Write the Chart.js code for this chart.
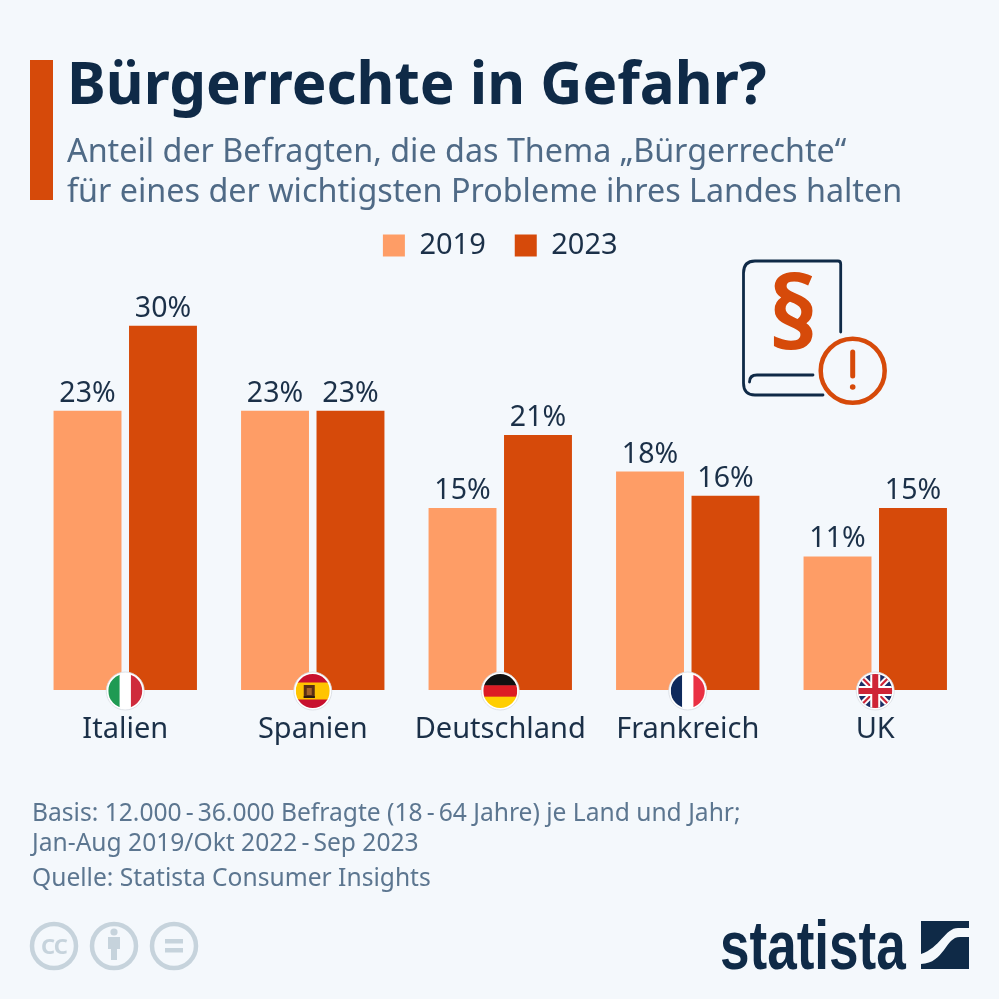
<!DOCTYPE html>
<html lang="de">
<head>
<meta charset="utf-8">
<title>Bürgerrechte in Gefahr?</title>
<script src="https://cdn.jsdelivr.net/npm/chart.js@4"></script>
<style>
  html, body { margin: 0; padding: 0; background: #f4f8fc; }
  body { width: 999px; height: 999px; position: relative; overflow: hidden; font-family: "Noto Sans", sans-serif; }
  canvas { position: absolute; left: 0; top: 0; }
  .txt { position: absolute; white-space: nowrap; }
  .accent { position: absolute; left: 30px; top: 60px; width: 23px; height: 140px; background: #d64a0a; }
  .title { left: 67px; top: 45px; font-size: 58.3px; line-height: 74px; font-weight: 700; color: #0f2a47; }
  .sub { left: 67px; font-size: 32.3px; line-height: 40px; color: #4f6a86; }
  .foot { left: 32px; font-size: 24.6px; line-height: 32px; color: #5c7690; }
  .logo { left: 720px; top: 905px; font-family: "Liberation Sans", sans-serif; font-weight: 700; font-size: 68px; line-height: 80px; color: #0f2a47; transform: scaleX(0.78); transform-origin: left top; }
  svg { position: absolute; left: 0; top: 0; }
</style>
</head>
<body>
<canvas id="chart" width="999" height="999"></canvas>
<div class="accent"></div>
<div class="txt title">Bürgerrechte in Gefahr?</div>
<div class="txt sub" style="top:129px">Anteil der Befragten, die das Thema „Bürgerrechte“</div>
<div class="txt sub" style="top:169px">für eines der wichtigsten Probleme ihres Landes halten</div>
<div class="txt foot" style="top:796px">Basis: 12.000&#8201;-&#8201;36.000 Befragte (18&#8201;-&#8201;64 Jahre) je Land und Jahr;</div>
<div class="txt foot" style="top:826px">Jan-Aug 2019/Okt 2022&#8201;-&#8201;Sep 2023</div>
<div class="txt foot" style="top:861px">Quelle: Statista Consumer Insights</div>
<div class="txt logo">statista</div>
<svg width="999" height="999" viewBox="0 0 999 999">
  <!-- book icon -->
  <g fill="none" stroke="#0f2a47" stroke-width="2.8" stroke-linecap="round">
    <path d="M840.7 332 V264 Q840.7 261 838 261 H755 Q743.5 261 743.5 273 V383 Q743.5 395 755 395 H823"/>
    <path d="M813 375 H757 Q749.5 375 749.5 382"/>
  </g>
  <text x="793" y="349" text-anchor="middle" font-family="Noto Sans" font-weight="700" font-size="100" fill="#d64a0a">§</text>
  <circle cx="852.7" cy="370.7" r="32" fill="none" stroke="#d64a0a" stroke-width="4.5"/>
  <path d="M852.7 352 V376" stroke="#d64a0a" stroke-width="5" stroke-linecap="round"/>
  <circle cx="852.7" cy="387" r="2.8" fill="#d64a0a"/>
  <!-- licence icons -->
  <g fill="none" stroke="#c6d3dc" stroke-width="4.5">
    <circle cx="54" cy="946" r="22"/><circle cx="114" cy="946" r="22"/><circle cx="174" cy="946" r="22"/>
  </g>
  <text x="54" y="954" text-anchor="middle" font-family="Noto Sans" font-weight="700" font-size="22" letter-spacing="-1" fill="#c6d3dc">CC</text>
  <g fill="#c6d3dc">
    <circle cx="114" cy="932" r="3.6"/>
    <path d="M108 937 H120 V949 H117 V960 H111 V949 H108 Z"/>
    <rect x="165" y="939" width="18" height="4.5"/><rect x="165" y="948" width="18" height="4.5"/>
  </g>
  <!-- statista mark -->
  <g fill="#0f2a47">
    <path d="M921 921 H969 V928 H958 C945 928 940 948 921 954 Z"/>
    <path d="M969 937 V969 H921 V964 C945 963 945 937 960 937 Z"/>
  </g>
</svg>
<script>
const categories = ['Italien', 'Spanien', 'Deutschland', 'Frankreich', 'UK'];
const years = ['2019', '2023'];
const values2019 = [23, 23, 15, 18, 11];
const values2023 = [30, 23, 21, 16, 15];
const flagCodes = ['it', 'es', 'de', 'fr', 'uk'];

const LIGHT = '#fe9d66';
const DARK = '#d64a0a';
const INK = '#1b3048';

function stripesV(ctx, x, y, r, cols) {
  const w = 2 * r / cols.length;
  cols.forEach((c, i) => { ctx.fillStyle = c; ctx.fillRect(x - r + i * w, y - r, w + 0.5, 2 * r); });
}
function stripesH(ctx, x, y, r, cols, sizes) {
  let top = y - r;
  cols.forEach((c, i) => { const h = 2 * r * sizes[i]; ctx.fillStyle = c; ctx.fillRect(x - r, top, 2 * r, h + 0.5); top += h; });
}
function ukFlag(ctx, x, y, r) {
  ctx.fillStyle = '#1c2f66';
  ctx.fillRect(x - r, y - r, 2 * r, 2 * r);
  ctx.lineCap = 'butt';
  const line = (x1, y1, x2, y2, w, c) => { ctx.strokeStyle = c; ctx.lineWidth = w; ctx.beginPath(); ctx.moveTo(x1, y1); ctx.lineTo(x2, y2); ctx.stroke(); };
  line(x - r, y - r, x + r, y + r, 6, '#fff');
  line(x - r, y + r, x + r, y - r, 6, '#fff');
  line(x - r, y - r, x + r, y + r, 2.2, '#cf2436');
  line(x - r, y + r, x + r, y - r, 2.2, '#cf2436');
  line(x, y - r, x, y + r, 10, '#fff');
  line(x - r, y, x + r, y, 10, '#fff');
  line(x, y - r, x, y + r, 6, '#cf2436');
  line(x - r, y, x + r, y, 6, '#cf2436');
}
function drawFlag(ctx, code, x, y, r) {
  ctx.save();
  ctx.beginPath(); ctx.arc(x, y, r + 2, 0, Math.PI * 2);
  ctx.fillStyle = '#fff'; ctx.fill();
  ctx.strokeStyle = '#d5dbe1'; ctx.lineWidth = 0.8; ctx.stroke();
  ctx.beginPath(); ctx.arc(x, y, r, 0, Math.PI * 2); ctx.clip();
  if (code === 'it') stripesV(ctx, x, y, r, ['#1f9a53', '#ffffff', '#cf2b3c']);
  if (code === 'fr') stripesV(ctx, x, y, r, ['#0f2a5c', '#ffffff', '#ea3043']);
  if (code === 'de') stripesH(ctx, x, y, r, ['#111111', '#dd1c24', '#ffce00'], [1 / 3, 1 / 3, 1 / 3]);
  if (code === 'es') {
    stripesH(ctx, x, y, r, ['#c8102e', '#ffc400', '#c8102e'], [0.25, 0.5, 0.25]);
    // crest
    ctx.fillStyle = '#5a2f16'; ctx.fillRect(x - 9, y - 6, 11, 13);
    ctx.fillStyle = '#a5632a'; ctx.fillRect(x - 6, y - 3, 5, 7);
    ctx.fillStyle = '#2a1a10'; ctx.fillRect(x - 9, y + 5, 11, 2);
  }
  if (code === 'uk') ukFlag(ctx, x, y, r);
  ctx.restore();
}

// value labels above the bars, flags on the baseline
const barExtras = {
  id: 'barExtras',
  afterDatasetsDraw(chart) {
    const { ctx, scales } = chart;
    ctx.save();
    ctx.font = '28.5px "Noto Sans"';
    ctx.fillStyle = INK;
    ctx.textAlign = 'center';
    ctx.textBaseline = 'alphabetic';
    chart.data.datasets.forEach((ds, i) => {
      chart.getDatasetMeta(i).data.forEach((bar, j) => {
        ctx.fillText(ds.data[j] + '%', bar.x, bar.y - 9);
      });
    });
    ctx.restore();
    flagCodes.forEach((code, i) => drawFlag(ctx, code, scales.x.getPixelForValue(i), scales.y.bottom + 1, 17));
  }
};

new Chart(document.getElementById('chart'), {
  type: 'bar',
  data: {
    labels: categories,
    datasets: [
      { label: years[0], data: values2019, backgroundColor: LIGHT },
      { label: years[1], data: values2023, backgroundColor: DARK }
    ]
  },
  options: {
    responsive: false,
    animation: false,
    devicePixelRatio: 1,
    layout: { padding: { left: 31.5, right: 30, top: 202, bottom: 0 } },
    datasets: { bar: { categoryPercentage: 0.805, barPercentage: 0.9 } },
    plugins: {
      tooltip: { enabled: false },
      legend: {
        position: 'top',
        labels: { boxWidth: 22, boxHeight: 22, padding: 29, color: INK, font: { family: 'Noto Sans', size: 29 } }
      }
    },
    scales: {
      x: {
        border: { display: false },
        grid: { display: false },
        ticks: { color: INK, padding: 14, maxRotation: 0, font: { family: 'Noto Sans', size: 29 } },
        afterFit: s => { s.height = 309; }
      },
      y: { display: false, min: 0, max: 34.6 }
    }
  },
  plugins: [barExtras]
});
</script>
</body>
</html>
